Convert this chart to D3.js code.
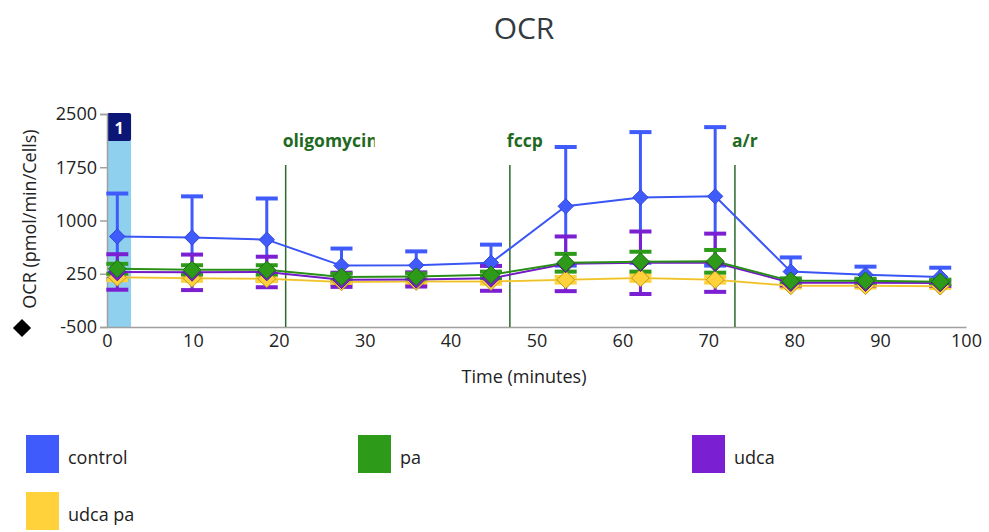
<!DOCTYPE html>
<html><head><meta charset="utf-8">
<script src="https://cdn.jsdelivr.net/npm/d3@7"></script>
<style>body{margin:0;background:#fff}svg{display:block}</style>
</head><body>
<svg id="c" width="989" height="532"></svg>
<script>
const times = [1.2, 9.9, 18.6, 27.3, 36.0, 44.7, 53.4, 62.1, 70.8, 79.6, 88.3, 97.0];
const control = [775, 760, 730, 365, 370, 405, 1200, 1325, 1340, 280, 235, 205];
const controlErr = [605, 580, 580, 240, 195, 255, 835, 920, 975, 200, 115, 130];
const pa = [320, 305, 305, 205, 210, 235, 405, 420, 425, 150, 150, 137];
const paErr = [70, 65, 65, 45, 45, 45, 125, 140, 160, 35, 30, 30];
const udca = [275, 270, 275, 165, 170, 185, 390, 405, 405, 125, 125, 120];
const udcaErr = [250, 250, 215, 100, 100, 175, 385, 440, 410, 40, 40, 40];
const udcaPa = [200, 185, 180, 135, 140, 140, 165, 190, 165, 80, 80, 75];
const udcaPaErr = [40, 35, 35, 30, 30, 30, 40, 40, 40, 25, 25, 25];
const seriesNames = ["control", "pa", "udca", "udca pa"];
const injections = ["oligomycin", "fccp", "a/r"];
const injectionTimes = [20.8, 46.9, 73.1];
const yTicks = [-500, 250, 1000, 1750, 2500];
const xTicks = [0, 10, 20, 30, 40, 50, 60, 70, 80, 90, 100];
const measurementWindow = [0, 2.8];

const colors = {"control":"#3f5bfc","pa":"#2e9a1a","udca":"#7a1fd2","udca pa":"#ffd23c"};
const strokes = {"control":"#2f46d8","pa":"#1f6e14","udca":"#5a149e","udca pa":"#b89a20"};
const series = [
  {name:"control", v:control, e:controlErr},
  {name:"pa", v:pa, e:paErr},
  {name:"udca", v:udca, e:udcaErr},
  {name:"udca pa", v:udcaPa, e:udcaPaErr}
];
const drawOrder = ["control","udca pa","udca","pa"].map(n=>series.find(s=>s.name===n));

const svg = d3.select("#c");
const font = "'Open Sans', 'Noto Sans', sans-serif";
const x = d3.scaleLinear().domain([0,100]).range([107,966]);
const y = d3.scaleLinear().domain([-500,2500]).range([327,114]);

// title
svg.append("text").attr("x",524).attr("y",39).attr("text-anchor","middle")
  .attr("font-family",font).attr("font-size",30).attr("fill","#333a40").text("OCR");

// measurement window
svg.append("rect").attr("x",x(measurementWindow[0])).attr("y",y(2500))
  .attr("width",x(measurementWindow[1])-x(measurementWindow[0])).attr("height",y(-500)-y(2500))
  .attr("fill","#8fd0ee");
svg.append("rect").attr("x",x(measurementWindow[0])).attr("y",y(2500)-1)
  .attr("width",x(measurementWindow[1])-x(measurementWindow[0])).attr("height",28)
  .attr("rx",2).attr("fill","#0b1677");
svg.append("text").attr("x",(x(measurementWindow[0])+x(measurementWindow[1]))/2).attr("y",y(2500)+20)
  .attr("text-anchor","middle").attr("font-family",font).attr("font-weight","bold")
  .attr("font-size",16).attr("fill","#fff").text("1");

// axes
const yAxis = svg.append("g").attr("transform",`translate(${x(0)},0)`)
  .call(d3.axisLeft(y).tickValues(yTicks).tickFormat(d=>String(d)).tickSize(7).tickPadding(3));
const xAxis = svg.append("g").attr("transform",`translate(0,${y(-500)})`)
  .call(d3.axisBottom(x).tickValues(xTicks).tickFormat(d=>String(d)).tickSize(0).tickPadding(7));
[yAxis,xAxis].forEach(g=>{
  g.select(".domain").attr("stroke","#a0a0a0").attr("stroke-width",1.5);
  g.selectAll(".tick line").attr("stroke","#a0a0a0").attr("stroke-width",1.5);
  g.selectAll("text").attr("font-family",font).attr("font-size",18).attr("fill","#222");
});

// axis titles
svg.append("text").attr("x",524).attr("y",383).attr("text-anchor","middle")
  .attr("font-family",font).attr("font-size",18).attr("fill","#222").text("Time (minutes)");
svg.append("text").attr("transform","translate(36,219) rotate(-90)").attr("text-anchor","middle")
  .attr("font-family",font).attr("font-size",18).attr("fill","#222").text("OCR (pmol/min/Cells)");
svg.append("path").attr("d",d3.symbol(d3.symbolDiamond2,210)()).attr("transform","translate(22,328)")
  .attr("fill","#000");

// injections
const defs = svg.append("defs");
injections.forEach((name,i)=>{
  const xi = x(injectionTimes[i]);
  svg.append("line").attr("x1",xi).attr("x2",xi).attr("y1",165).attr("y2",y(-500))
    .attr("stroke","#2a6a2a").attr("stroke-width",1.5);
  defs.append("clipPath").attr("id","clip"+i).append("rect")
    .attr("x",xi-5).attr("y",120).attr("width",94).attr("height",40);
  svg.append("text").attr("x",xi-3).attr("y",147).attr("clip-path",`url(#clip${i})`)
    .attr("font-family",font).attr("font-weight","bold").attr("font-size",17.5)
    .attr("fill","#1f6a1f").text(name);
});

// error bars
drawOrder.forEach(s=>{
  const g = svg.append("g");
  s.v.forEach((v,i)=>{
    const cx = x(times[i]), top = y(v+s.e[i]), bot = y(v-s.e[i]);
    g.append("line").attr("x1",cx).attr("x2",cx).attr("y1",top).attr("y2",bot)
      .attr("stroke",colors[s.name]).attr("stroke-width",3);
    [top,bot].forEach(yy=>g.append("line").attr("x1",cx-11).attr("x2",cx+11).attr("y1",yy).attr("y2",yy)
      .attr("stroke",colors[s.name]).attr("stroke-width",4));
  });
});
// lines
const line = d3.line().x((d,i)=>x(times[i])).y(d=>y(d));
drawOrder.forEach(s=>{
  svg.append("path").datum(s.v).attr("d",line).attr("fill","none")
    .attr("stroke",colors[s.name]).attr("stroke-width",2);
  svg.append("path").datum(s.v).attr("d",line).attr("fill","none")
    .attr("stroke",strokes[s.name]).attr("stroke-width",0.6).attr("opacity",0.6);
});
// markers
drawOrder.forEach(s=>{
  svg.selectAll(null).data(s.v).enter().append("path")
    .attr("d",d3.symbol(d3.symbolDiamond2,s.name==="control"?150:200)())
    .attr("transform",(d,i)=>`translate(${x(times[i])},${y(d)})`)
    .attr("fill",colors[s.name]).attr("stroke",strokes[s.name]).attr("stroke-width",1);
});

// legend
const legendPos = [[26,435],[358,435],[692,435],[26,492]];
seriesNames.forEach((n,i)=>{
  const [lx,ly] = legendPos[i];
  svg.append("rect").attr("x",lx).attr("y",ly).attr("width",33).attr("height",38).attr("fill",colors[n]);
  svg.append("text").attr("x",lx+42).attr("y",ly+29).attr("font-family",font).attr("font-size",18)
    .attr("fill","#222").text(n);
});
</script>
</body></html>
